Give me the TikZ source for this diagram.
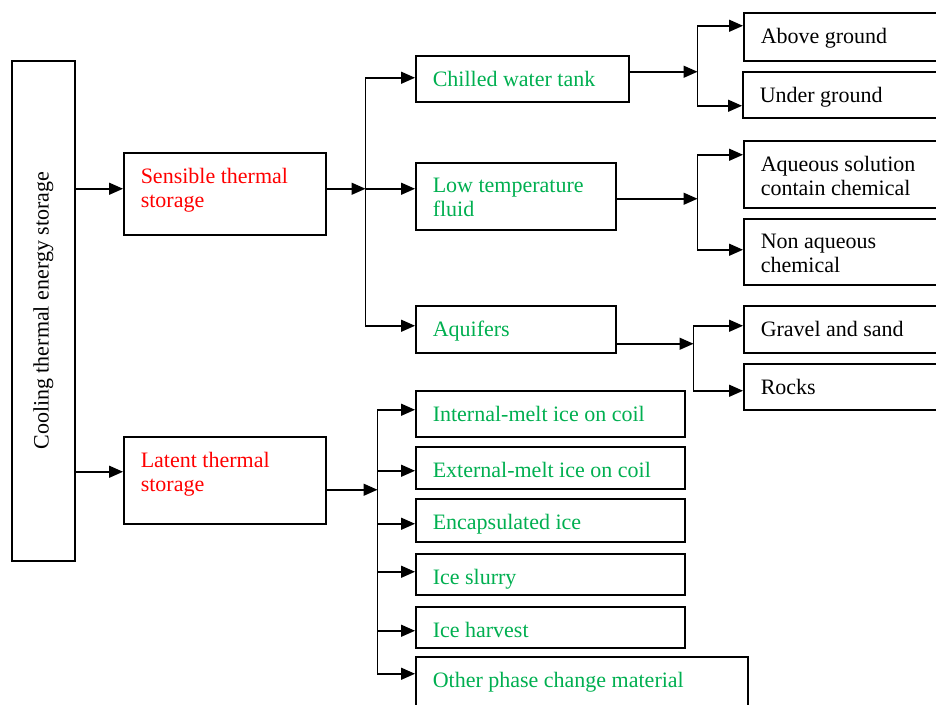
\documentclass[tikz,border=0pt]{standalone}
\usepackage{fontspec}
\setmainfont{Liberation Serif}
\usetikzlibrary{arrows.meta}
\definecolor{storered}{RGB}{255,0,0}
\definecolor{leafgreen}{RGB}{0,175,80}

\begin{document}
\begin{tikzpicture}[x=1pt, y=-1pt, line width=1.5pt,
  >={Triangle[length=14pt, width=12pt]},
  every node/.style={font=\fontsize{22}{24.5}\selectfont}]
  \def\catbox#1#2#3#4#5#6{
    \node[draw, rectangle, anchor=north west, inner sep=0,
    minimum width=#4pt, minimum height=#5pt] (#2) at #3 {};
    \node[#1, inner sep=0, anchor=north west, align=left]
    (#2-text) at ([xshift=17pt, yshift=-15pt] #2.north west) {#6};
  }
  \useasboundingbox (0,0) rectangle (936,704);
  \clip (0,0) rectangle (936,704);

  % root
  \node[draw, rectangle, anchor=north west, inner sep=0,
  minimum width=63pt, minimum height=500pt] (cooling) at (11,60) {};
  \node[rotate=90] (cooling-text) at (cooling.center)
  {Cooling thermal energy storage};

  % storage kinds
  \catbox{storered}{sens}{(123,152)}{202}{82}{Sensible thermal\\storage}
  \catbox{storered}{latent}{(123,436)}{202}{87}{Latent thermal\\storage}

  % sensible branch
  \catbox{leafgreen}{chilled}{(415,55)}{213}{46}{Chilled water tank}
  \catbox{leafgreen}{lowtemp}{(415,162)}{200}{67}{Low temperature\\fluid}
  \catbox{leafgreen}{aquifers}{(415,305)}{200}{47}{Aquifers}

  \catbox{black}{above}{(743,12)}{210}{48}{Above ground}
  \catbox{black}{under}{(742,71)}{210}{46}{Under ground}
  \catbox{black}{aqueous}{(743,140)}{210}{67}{Aqueous solution\\contain chemical}
  \catbox{black}{nonaq}{(743,218)}{210}{66}{Non aqueous\\chemical}
  \catbox{black}{gravel}{(743,305)}{210}{47}{Gravel and sand}
  \catbox{black}{rocks}{(743,363)}{210}{46}{Rocks}

  % latent branch
  \catbox{leafgreen}{internal}{(415,390)}{269}{46}{Internal-melt ice on coil}
  \catbox{leafgreen}{external}{(415,446)}{269}{42}{External-melt ice on coil}
  \catbox{leafgreen}{encaps}{(415,498)}{269}{43}{Encapsulated ice}
  \catbox{leafgreen}{slurry}{(415,553)}{269}{41}{Ice slurry}
  \catbox{leafgreen}{harvest}{(415,606)}{269}{41}{Ice harvest}
  \catbox{leafgreen}{other}{(415,656)}{332}{60}{Other phase change material}

  % junctions
  \coordinate (sensj) at ([xshift=39pt, yshift=5pt]sens.east);
  \coordinate (chillj) at ([xshift=68pt, yshift=7pt]chilled.east);
  \coordinate (lowj) at ([xshift=81pt, yshift=-2.5pt]lowtemp.east);
  \coordinate (aquj) at ([xshift=77pt, yshift=-14.5pt]aquifers.east);
  \coordinate (latj) at ([xshift=51pt, yshift=-9.5pt]latent.east);

  \draw[->] ([yshift=5pt]sens.west -| cooling.east) -- ([yshift=5pt]sens.west);
  \draw[->] ([yshift=8.5pt]latent.west -| cooling.east) -- ([yshift=8.5pt]latent.west);

  \draw[->] ([yshift=5pt]sens.east) -- (sensj);
  \draw[->] (sensj) |- ([yshift=1pt]chilled.west);
  \draw[->] (sensj) |- ([yshift=7.5pt]lowtemp.west);
  \draw[->] (sensj) |- ([yshift=3.5pt]aquifers.west);

  \draw[->] ([yshift=7pt]chilled.east) -- (chillj);
  \draw[->] (chillj) |- ([yshift=11pt]above.west);
  \draw[->] (chillj) |- ([yshift=-11pt]under.west);

  \draw[->] ([yshift=-2.5pt]lowtemp.east) -- (lowj);
  \draw[->] (lowj) |- ([yshift=19.5pt]aqueous.west);
  \draw[->] (lowj) |- ([yshift=2pt]nonaq.west);

  \draw[->] ([yshift=-14.5pt]aquifers.east) -- (aquj);
  \draw[->] (aquj) |- ([yshift=3.5pt]gravel.west);
  \draw[->] (aquj) |- ([yshift=-4pt]rocks.west);

  \draw[->] ([yshift=-9.5pt]latent.east) -- (latj);
  \foreach \n/\s in {internal/4pt, external/-3pt, encaps/-3.5pt,
    slurry/2.5pt, harvest/-3.5pt, other/13pt}
  \draw[->] (latj) |- ([yshift=\s]\n.west);
\end{tikzpicture}
\end{document}
